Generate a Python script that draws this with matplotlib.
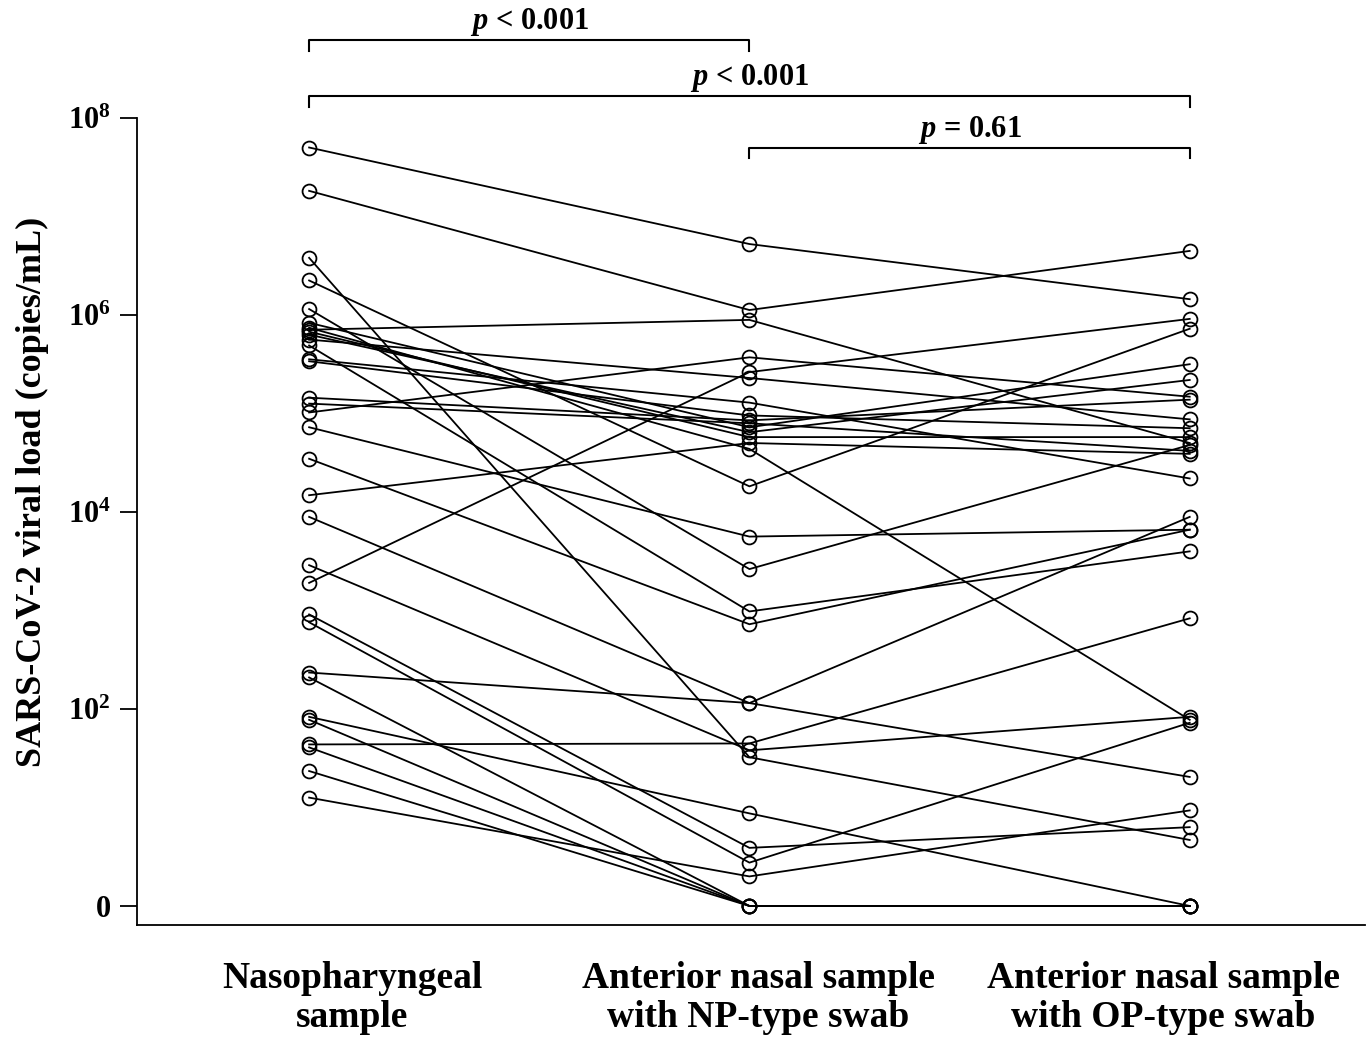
import matplotlib
matplotlib.use("Agg")
import numpy as np
import matplotlib.pyplot as plt

# log10 viral load (copies/mL) per subject, 0 = not detected
# columns: nasopharyngeal, anterior nasal (NP swab), anterior nasal (OP swab)
np_sample = [7.70, 7.26, 6.58, 6.35, 6.06, 5.92, 5.87, 5.85, 5.83, 5.80, 5.75,
             5.69, 5.55, 5.53, 5.16, 5.10, 5.01, 4.86, 4.54, 4.17, 3.95, 3.46,
             3.28, 2.96, 2.88, 2.37, 2.32, 1.92, 1.89, 1.64, 1.61, 1.37, 1.10]
an_np_swab = [6.72, 6.05, 1.51, 4.26, 3.42, 4.86, 4.64, 5.95, 4.76, 4.81, 5.36,
              2.99, 5.11, 4.98, 4.93, 4.90, 5.57, 3.75, 2.86, 4.70, 2.06, 1.58,
              5.42, 0.59, 0.44, 2.06, 0.00, 0.94, 0.00, 1.65, 0.00, 0.00, 0.30]
an_op_swab = [6.16, 6.65, 0.67, 5.86, 4.68, 5.50, 1.89, 4.70, 4.76, 5.34, 4.94,
              3.60, 4.34, 4.85, 5.14, 4.62, 5.17, 3.82, 3.82, 4.59, 3.95, 1.92,
              5.96, 0.80, 1.86, 1.31, 0.00, 0.00, 0.00, 2.92, 0.00, 0.00, 0.97]

groups = ["Nasopharyngeal\nsample",
          "Anterior nasal sample\nwith NP-type swab",
          "Anterior nasal sample\nwith OP-type swab"]
# group labels sit a little off the point columns in the original
label_pos = [0.098, 1.02, 1.94]

y_ticks = [0, 2, 4, 6, 8]
y_labels = ["0", r"$\mathbf{10^{2}}$", r"$\mathbf{10^{4}}$", r"$\mathbf{10^{6}}$", r"$\mathbf{10^{8}}$"]

# (from group, to group, label, bracket height)
comparisons = [(0, 1, "< 0.001", 8.79),
               (0, 2, "< 0.001", 8.22),
               (1, 2, "= 0.61", 7.70)]

plt.rcParams["font.family"] = ["Liberation Serif", "DejaVu Serif"]
plt.rcParams["font.weight"] = "bold"
plt.rcParams["mathtext.fontset"] = "custom"
plt.rcParams["mathtext.rm"] = "Liberation Serif:bold"
plt.rcParams["mathtext.bf"] = "Liberation Serif:bold"
plt.rcParams["mathtext.it"] = "Liberation Serif:bold:italic"

fig = plt.figure(figsize=(13.67, 10.42), dpi=100)
ax = fig.add_axes([0.1002, 0.1123, 0.8983, 0.7745])

x = np.arange(3)
for a, b, c in zip(np_sample, an_np_swab, an_op_swab):
    ax.plot(x, [a, b, c], color="black", lw=1.3, marker="o", ms=10,
            mfc="none", mec="black", mew=1.3)

ax.set_xlim(-0.391, 2.398)
ax.set_ylim(-0.193, 8)

ax.spines["top"].set_visible(False)
ax.spines["right"].set_visible(False)
ax.spines["left"].set_linewidth(1.3)
ax.spines["bottom"].set_linewidth(1.3)

ax.set_yticks(y_ticks)
ax.set_yticklabels(y_labels)
ax.tick_params(axis="y", direction="out", length=12, width=1.3, pad=7, labelsize=22)
ax.set_xticks(label_pos)
ax.set_xticklabels(groups, fontsize=27, fontweight="bold", linespacing=1.15)
ax.tick_params(axis="x", length=0, pad=26)

ax.set_ylabel("SARS-CoV-2 viral load (copies/mL)", fontsize=26, fontweight="bold")
ax.yaxis.set_label_coords(-0.072, 0.537)

for i, j, lab, h in comparisons:
    ax.plot([i, i, j, j], [h - 0.11, h, h, h - 0.11], color="black", lw=1.5, clip_on=False)
    ax.text((i + j) / 2, h + 0.02, r"$\mathit{p}$ " + lab, ha="center", va="bottom",
            fontsize=22, fontweight="bold")

fig.savefig("out.png", dpi=100)
